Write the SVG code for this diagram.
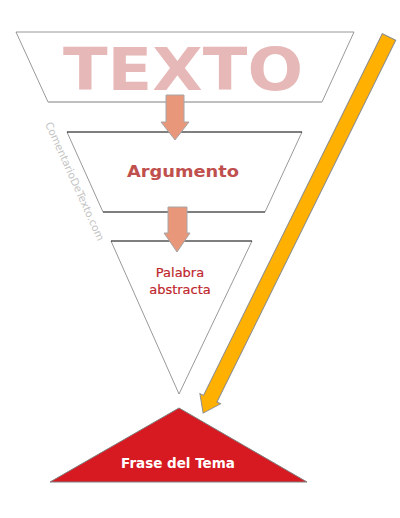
<svg xmlns="http://www.w3.org/2000/svg" width="400" height="518" viewBox="0 0 400 518">
<style>
.side{fill:none;stroke:#7f7f7f;stroke-width:0.8}
.blk{fill:none;stroke:#000;stroke-width:1.2}
.sal{fill:#e9977a;stroke:#a6a6a6;stroke-width:1}
.t{font-family:"DejaVu Sans",Verdana,sans-serif;text-anchor:middle}
</style>
<rect width="400" height="518" fill="#fff"/>
<g id="watermark">
<text x="45" y="124" transform="rotate(65.8 45 124)" font-family="DejaVu Sans,sans-serif" font-size="10.5" fill="#c4c4c4" textLength="129" lengthAdjust="spacingAndGlyphs">ComentarioDeTexto.com</text>
</g>
<g id="texto">
<polygon points="16,32 354,32 322,102 48,102" fill="#fff" stroke="none"/>
<polyline class="side" points="48,102 16,32 354,32 322,102"/>
<line x1="48" y1="102" x2="322" y2="102" stroke="#bfbfbf" stroke-width="2"/>
<text class="t" x="183" y="90" font-size="58" font-weight="bold" fill="#e6b9b8" textLength="240" lengthAdjust="spacingAndGlyphs">TEXTO</text>
</g>
<g id="argumento">
<polyline class="side" points="67,132 103,212"/>
<polyline class="side" points="302,132 265,212"/>
<line class="blk" x1="67" y1="132" x2="302" y2="132"/>
<line class="blk" x1="103" y1="212" x2="265" y2="212"/>
<text class="t" x="183" y="177" font-size="15.5" font-weight="bold" fill="#c0504d" textLength="112" lengthAdjust="spacingAndGlyphs">Argumento</text>
</g>
<g id="palabra">
<polyline class="side" points="111,241 179,394 252,241"/>
<line class="blk" x1="111" y1="241" x2="252" y2="241"/>
<text class="t" x="180" y="277" font-size="13" fill="#c0272d" stroke="#c0272d" stroke-width="0.2">Palabra</text>
<text class="t" x="180" y="294" font-size="13" fill="#c0272d" stroke="#c0272d" stroke-width="0.2">abstracta</text>
</g>
<g id="frase">
<polygon points="179,408 307,482 50,482" fill="#d71a21" stroke="#7f7f7f" stroke-width="1"/>
<text class="t" x="178" y="468" font-size="13.5" font-weight="bold" fill="#fff">Frase del Tema</text>
</g>
<g id="connectors">
<polygon class="sal" points="166,95 184,95 184,122 189,122 175,140 161,122 166,122"/>
<polygon class="sal" points="168,207 187,207 187,233 190,233 177,252 164,233 168,233"/>
<polygon points="0,-7.5 403.5,-7.5 403.5,-11.5 419.5,0 403.5,11.5 403.5,7.5 0,7.5" transform="translate(389,37) rotate(116.3)" fill="#ffb000" stroke="#8c8c8c" stroke-width="1"/>
</g>
</svg>
